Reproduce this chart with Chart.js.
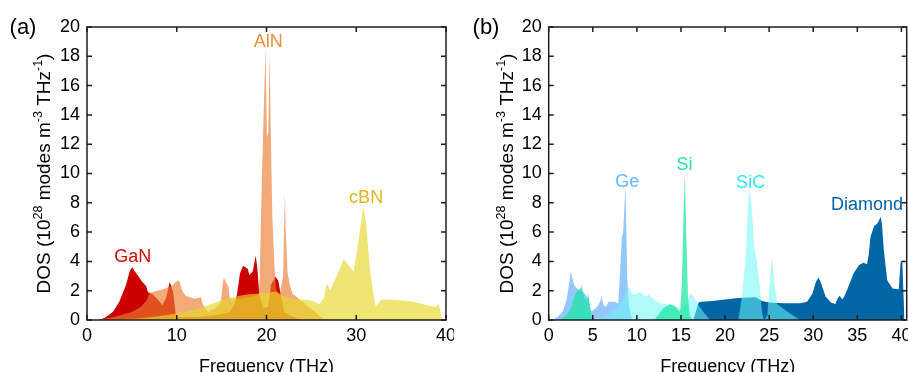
<!DOCTYPE html>
<html><head><meta charset="utf-8">
<script src="https://cdn.jsdelivr.net/npm/chart.js@4"></script>
<style>
html,body{margin:0;padding:0;background:#fff;overflow:hidden;width:908px;height:372px;}
#wrap{position:relative;width:908px;height:372px;overflow:hidden;background:#fff;}
canvas{position:absolute;top:0;}
#ca{left:0;width:454px;height:384px;}
#cb{left:454px;width:454px;height:384px;}
</style></head><body>
<div id="wrap"><canvas id="ca" width="454" height="384"></canvas><canvas id="cb" width="454" height="384"></canvas></div>
<script>
// ---------- Panel (a) data ----------
const xTicksA = [0, 10, 20, 30, 40];
const yTicks = [0, 2, 4, 6, 8, 10, 12, 14, 16, 18, 20];

const ganFreq = [1.3,2.0,2.9,3.6,4.35,4.7,4.9,5.05,5.3,5.65,6.1,6.6,6.8,7.3,7.9,8.4,8.8,9.0,9.2,9.4,9.6,9.9,10.3,12,14,15.8,16.4,16.7,17.05,17.4,17.9,18.1,18.45,18.6,18.8,19.0,19.2,19.6,20.2,20.5,21.0,21.3,21.6,22.0,23.0,24.0];
const ganDos  = [0,0.15,0.57,1.25,2.4,3.2,3.5,3.6,3.35,3.05,2.65,2.3,1.9,1.75,1.4,1.0,1.5,2.0,2.6,2.3,1.9,0.3,0.2,0.2,0.3,0.5,1.0,1.7,3.2,3.7,3.5,3.07,3.3,3.75,4.4,3.4,1.7,0.8,0.9,2.4,2.95,2.7,1.7,0.5,0.2,0];

const alnFreq = [1.2,3,5,6,6.6,7.0,7.5,8.5,9.5,10.1,10.3,10.6,11.0,12.0,12.7,12.9,13.5,14.3,14.9,15.1,15.25,15.5,15.75,15.9,16.5,17.5,18.5,19.15,19.25,19.35,19.5,19.7,19.9,20.05,20.2,20.35,20.5,20.65,20.8,20.95,21.1,21.5,21.85,22.05,22.15,22.35,22.6,22.9,23.7,24.5,25.5,26.5];
const alnDos  = [0,0.2,0.55,0.9,1.3,1.85,1.95,2.1,2.35,2.7,2.65,2.0,1.65,1.45,1.55,1.05,0.55,0.8,1.2,2.3,2.9,2.55,2.3,1.5,1.4,1.5,1.6,1.8,3.0,6.0,10.0,14.5,18.6,12.5,12.8,18.3,12.0,7.0,4.8,3.0,2.0,1.8,3.0,8.7,6.0,3.2,2.4,1.8,1.4,1.0,0.5,0];

const cbnFreq = [2,4,6,8,10,11,12,13,13.5,15,16,17,18,19,20,21,21.6,22.5,23.5,24.8,25.9,26.4,26.7,27.1,27.8,28.6,29.1,29.7,30.2,30.8,31.1,31.5,32.0,32.2,32.8,34.5,36.4,38.2,38.9,39.2,39.6];
const cbnDos  = [0,0.05,0.12,0.25,0.45,0.55,0.7,0.9,1.0,1.35,1.5,1.65,1.75,1.8,1.85,1.95,1.7,1.5,1.4,1.37,1.1,1.5,2.5,2.05,2.96,4.15,3.75,3.3,5.2,7.7,6.6,3.6,1.37,0.9,1.4,1.37,1.25,0.95,0.9,1.05,0];

// ---------- Panel (b) data ----------
const xTicksB = [0, 5, 10, 15, 20, 25, 30, 35, 40];

const geFreq = [0.4,1.0,1.6,2.0,2.3,2.5,2.7,2.95,3.3,3.8,4.2,4.5,4.8,5.0,5.5,5.8,6.0,6.2,6.5,6.8,7.4,7.9,8.05,8.3,8.45,8.6,8.7,8.8,8.9,9.1,9.3,9.5];
const geDos  = [0,0.2,0.6,1.3,2.4,3.3,2.8,2.3,2.1,2.0,1.7,1.4,0.6,0.65,0.9,1.2,1.6,1.0,0.9,1.25,1.25,1.15,2.8,5.7,6.0,8.0,9.1,6.5,3.0,1.0,0.4,0];

const siFreq = [1.2,2.0,2.5,2.8,3.1,3.5,3.75,4.0,4.3,4.5,4.7,4.9,5.2,12.0,13,13.8,14.35,14.9,15.1,15.3,15.45,15.6,15.8,16.0,16.3];
const siDos  = [0,0.3,0.8,1.4,1.9,2.1,2.35,1.5,1.35,1.85,0.8,0.2,0,0,0.8,1.09,0.9,0.57,2.5,7.5,10.0,6.0,1.5,0.3,0];

const sicFreq = [4.5,5.5,6.5,7.5,8.3,8.8,9.05,9.3,9.6,10.0,10.4,10.9,11.4,11.8,12.6,13.5,14.2,15.0,15.5,16.1,16.4,17.0,17.6,18.3,21.5,21.9,22.3,22.7,23.0,23.3,23.6,23.9,24.2,24.4,24.8,25.0,25.3,25.6,25.9,27.0,28.5];
const sicDos  = [0,0.1,0.3,0.7,1.2,1.9,2.27,2.0,1.7,1.8,1.93,1.6,1.7,1.45,1.14,1.05,1.0,0.7,1.0,1.8,1.6,1.0,0.5,0,0,1.5,4.0,8.9,8.0,5.0,4.0,2.5,0.5,0,0.3,2.0,4.35,2.5,1.1,0.6,0];

const diaFreq = [16.4,17.0,17.3,18.5,20,21.5,23.5,24.2,25,26.7,28.5,29.3,29.9,30.3,30.6,30.9,31.4,32.0,32.5,32.8,33.0,33.3,33.6,34.0,34.6,35.2,35.7,36.1,36.3,36.5,36.9,37.3,37.65,37.8,38.0,38.4,39.0,39.7,39.9,40.1,40.25,40.35];
const diaDos  = [0,1.2,1.25,1.3,1.4,1.5,1.55,1.3,1.2,1.14,1.15,1.25,1.8,2.6,2.9,2.5,1.6,1.2,1.1,1.5,1.65,1.4,1.7,2.3,3.2,3.75,3.9,3.8,4.5,5.7,6.4,6.6,7.05,6.5,4.8,2.7,2.15,2.1,3.9,4.1,1.5,0];

// ---------- helpers ----------
const FONT = "'Liberation Sans', Arial, sans-serif";
const pts = (xs, ys) => xs.map((x, i) => ({x: x, y: ys[i]}));
const area = (label, xs, ys, color, order) => ({
  label, data: pts(xs, ys), backgroundColor: color, borderWidth: 0,
  pointRadius: 0, fill: 'origin', tension: 0, order
});

const framePlugin = {
  id: 'frameTicks',
  afterDatasetsDraw(chart) {
    const {ctx, chartArea: {left, right, top, bottom}, scales: {x, y}} = chart;
    ctx.save();
    ctx.strokeStyle = '#1e1e1e';
    ctx.lineWidth = 1.5;
    ctx.beginPath();
    x.ticks.forEach(t => {
      const px = x.getPixelForValue(t.value);
      ctx.moveTo(px, bottom); ctx.lineTo(px, bottom - 5);
      ctx.moveTo(px, top); ctx.lineTo(px, top + 5);
    });
    y.ticks.forEach(t => {
      const py = y.getPixelForValue(t.value);
      ctx.moveTo(left, py); ctx.lineTo(left + 5, py);
      ctx.moveTo(right, py); ctx.lineTo(right - 5, py);
    });
    ctx.stroke();
    ctx.strokeRect(left, top, right - left, bottom - top);
    ctx.restore();
  }
};

const textPlugin = {
  id: 'panelText',
  afterDraw(chart) {
    const o = chart.options.plugins.panelText;
    const {ctx, chartArea, scales: {x, y}} = chart;
    ctx.save();
    o.labels.forEach(l => {
      ctx.font = '18px ' + FONT;
      ctx.fillStyle = l.color;
      ctx.textAlign = 'center';
      ctx.textBaseline = 'middle';
      ctx.fillText(l.text, x.getPixelForValue(l.x), y.getPixelForValue(l.y));
    });
    ctx.font = '22px ' + FONT;
    ctx.fillStyle = '#000';
    ctx.textAlign = 'center';
    ctx.textBaseline = 'middle';
    ctx.fillText(o.letter, o.letterX, 28);
    const segs = [['DOS (10', 0], ['28', 1], [' modes m', 0], ['-3', 1], [' THz', 0], ['-1', 1], [')', 0]];
    const fMain = '19px ' + FONT, fSup = '12.5px ' + FONT;
    let total = 0;
    segs.forEach(s => { ctx.font = s[1] ? fSup : fMain; total += ctx.measureText(s[0]).width; });
    const cy = (chartArea.top + chartArea.bottom) / 2;
    ctx.translate(o.yTitleX, cy);
    ctx.rotate(-Math.PI / 2);
    ctx.textAlign = 'left';
    ctx.textBaseline = 'middle';
    let pos = -total / 2;
    segs.forEach(s => {
      ctx.font = s[1] ? fSup : fMain;
      ctx.fillText(s[0], pos, s[1] ? -6.5 : 0);
      pos += ctx.measureText(s[0]).width;
    });
    ctx.restore();
  }
};

function makePanel(id, datasets, xMax, xTicks, yWidth, padRight, letter, letterX, yTitleX, labels) {
  return new Chart(document.getElementById(id), {
    type: 'line',
    data: {datasets},
    plugins: [framePlugin, textPlugin],
    options: {
      responsive: false, animation: false, devicePixelRatio: 1,
      layout: {padding: {top: 27, right: padRight, left: 0, bottom: 0}},
      plugins: {legend: {display: false}, tooltip: {enabled: false},
        panelText: {letter, letterX, yTitleX, labels}},
      scales: {
        x: {
          type: 'linear', min: 0, max: xMax,
          afterBuildTicks: s => { s.ticks = xTicks.map(v => ({value: v})); },
          afterFit: s => { s.height = 64; s.paddingLeft = 0; s.paddingRight = 0; },
          grid: {display: false, drawTicks: false},
          border: {display: false},
          ticks: {font: {family: FONT, size: 18}, color: '#000', padding: 5, maxRotation: 0, autoSkip: false},
          title: {display: true, text: 'Frequency (THz)', color: '#000',
                  font: {family: FONT, size: 18}, padding: {top: 0, bottom: 6}}
        },
        y: {
          type: 'linear', min: 0, max: 20,
          afterBuildTicks: s => { s.ticks = yTicks.map(v => ({value: v})); },
          afterFit: s => { s.width = yWidth; s.paddingTop = 0; s.paddingBottom = 0; },
          grid: {display: false, drawTicks: false},
          border: {display: false},
          ticks: {font: {family: FONT, size: 18}, color: '#000', padding: 7, autoSkip: false}
        }
      }
    }
  });
}

makePanel('ca', [
  area('GaN', ganFreq, ganDos, 'rgb(204,0,0)', 3),
  area('AlN', alnFreq, alnDos, 'rgba(237,125,49,0.65)', 2),
  area('cBN', cbnFreq, cbnDos, 'rgba(230,215,40,0.65)', 1)
], 40, xTicksA, 87, 8, '(a)', 23, 45, [
  {text: 'GaN', x: 5.1, y: 4.3, color: 'rgb(210,10,10)'},
  {text: 'AlN', x: 20.2, y: 19.0, color: 'rgb(240,140,60)'},
  {text: 'cBN', x: 31.1, y: 8.3, color: 'rgb(228,180,35)'}
]);

makePanel('cb', [
  area('Diamond', diaFreq, diaDos, 'rgb(0,102,166)', 4),
  area('Ge', geFreq, geDos, 'rgba(90,170,250,0.65)', 3),
  area('SiC', sicFreq, sicDos, 'rgba(110,245,245,0.55)', 2),
  area('Si', siFreq, siDos, 'rgba(20,230,160,0.7)', 1)
], 40.6, xTicksB, 94.7, 1.3, '(b)', 32, 54, [
  {text: 'Ge', x: 8.9, y: 9.4, color: 'rgb(100,185,250)'},
  {text: 'Si', x: 15.4, y: 10.6, color: 'rgb(40,228,170)'},
  {text: 'SiC', x: 22.9, y: 9.35, color: 'rgb(50,232,245)'},
  {text: 'Diamond', x: 36.1, y: 7.85, color: 'rgb(0,100,170)'}
]);
</script>
</body></html>
